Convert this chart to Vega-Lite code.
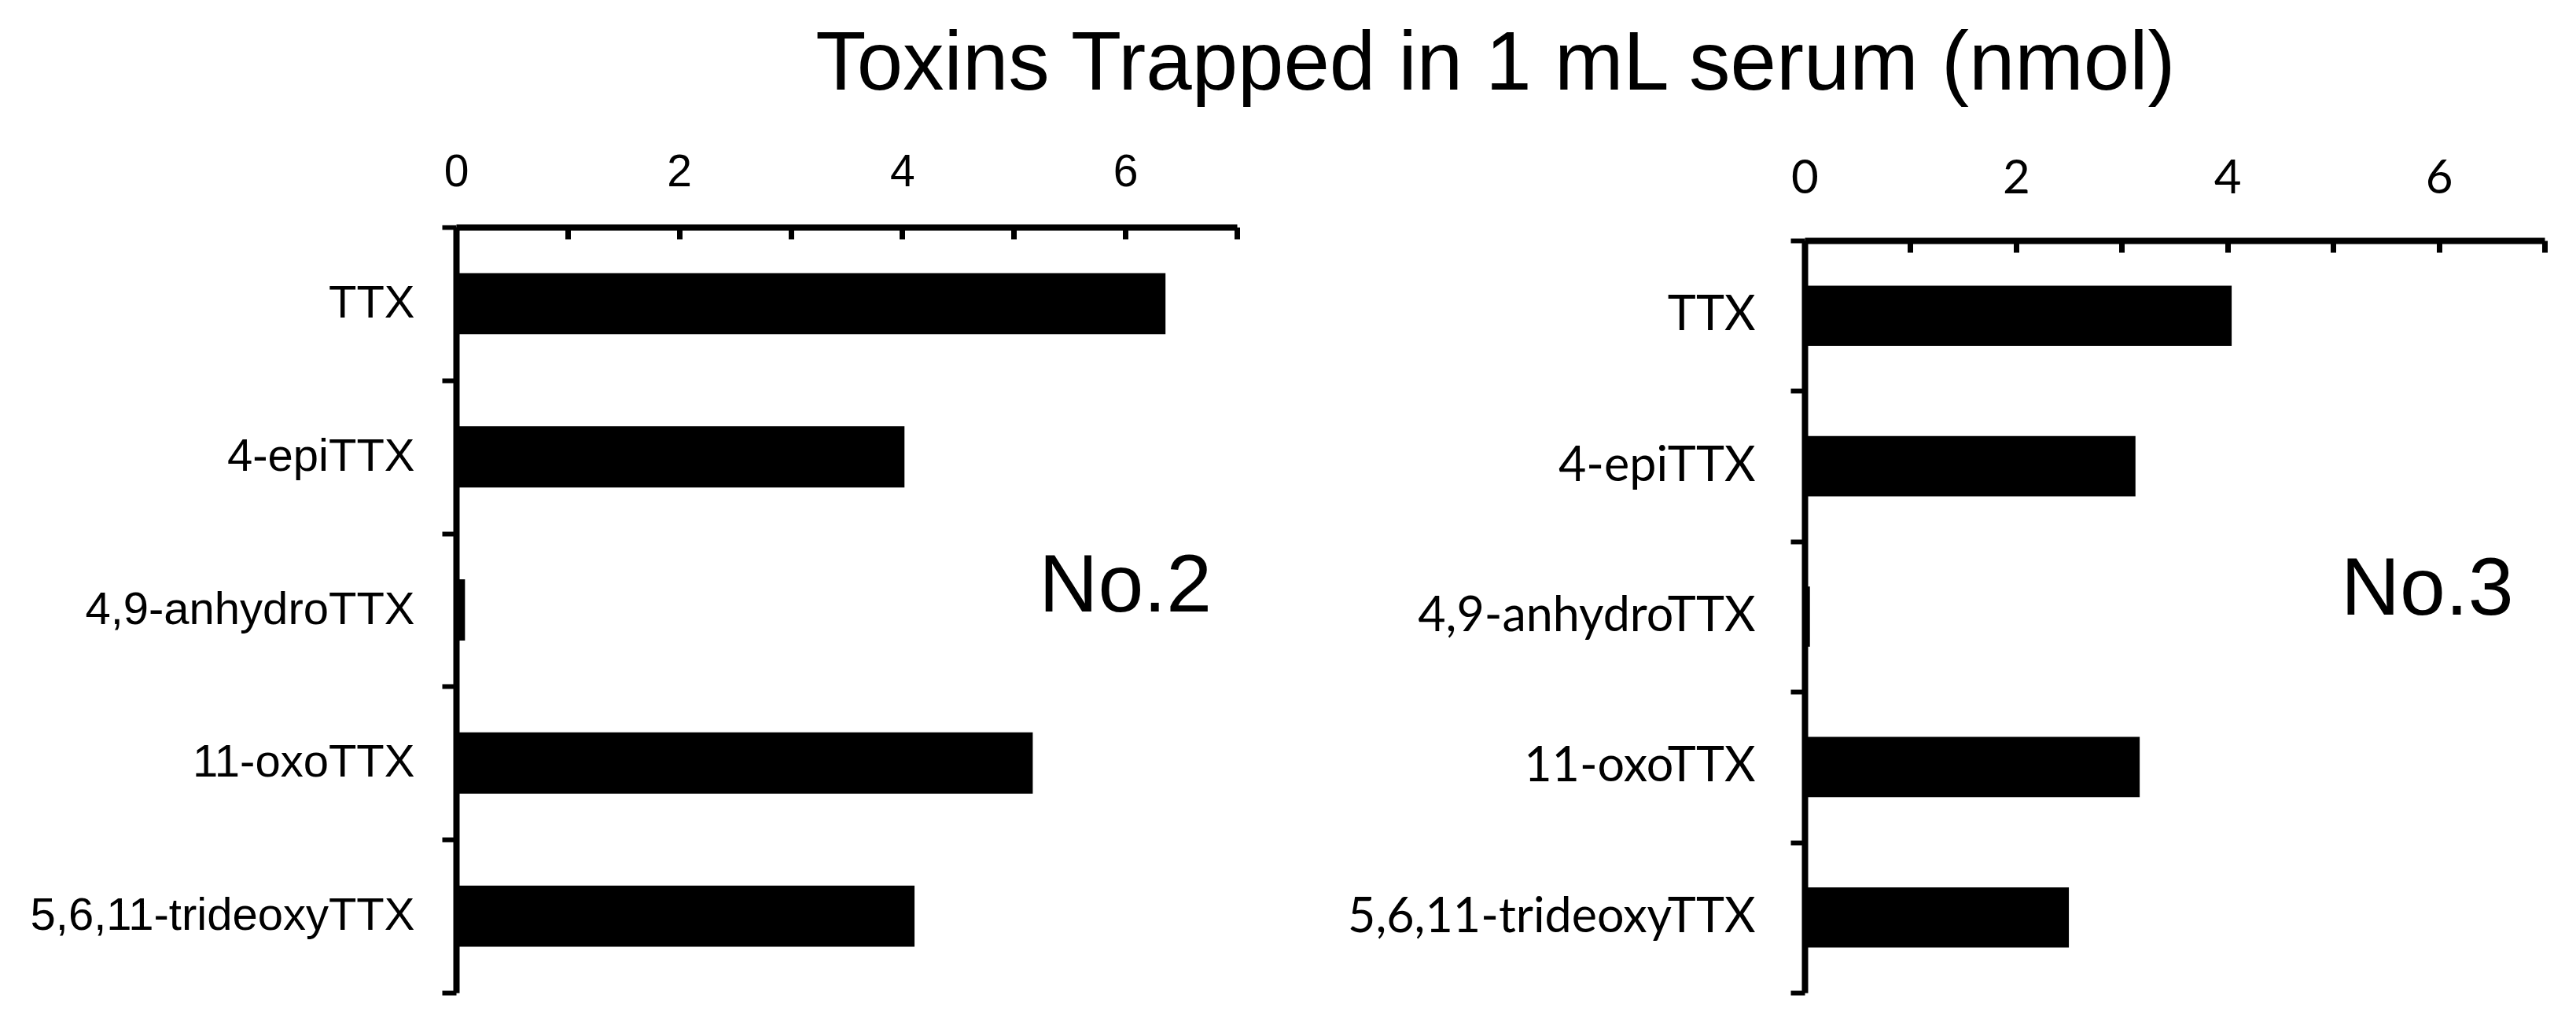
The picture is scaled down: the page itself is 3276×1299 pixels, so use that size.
{
  "$schema": "https://vega.github.io/schema/vega-lite/v6.json",
  "padding": {"left": 38, "top": 30, "right": 5, "bottom": 5},
  "background": "white",
  "title": {
    "text": "Toxins Trapped in 1 mL serum (nmol)",
    "font": "Liberation Sans",
    "fontSize": 105,
    "fontWeight": "normal",
    "color": "black",
    "anchor": "middle",
    "dx": 263,
    "offset": 54
  },
  "datasets": {
    "toxins": [
      {"sample": "No.2", "compound": "TTX", "amount": 6.36},
      {"sample": "No.2", "compound": "4-epiTTX", "amount": 4.02},
      {"sample": "No.2", "compound": "4,9-anhydroTTX", "amount": 0.08},
      {"sample": "No.2", "compound": "11-oxoTTX", "amount": 5.17},
      {"sample": "No.2", "compound": "5,6,11-trideoxyTTX", "amount": 4.11},
      {"sample": "No.3", "compound": "TTX", "amount": 4.04},
      {"sample": "No.3", "compound": "4-epiTTX", "amount": 3.13},
      {"sample": "No.3", "compound": "4,9-anhydroTTX", "amount": 0.05},
      {"sample": "No.3", "compound": "11-oxoTTX", "amount": 3.17},
      {"sample": "No.3", "compound": "5,6,11-trideoxyTTX", "amount": 2.5}
    ]
  },
  "spacing": 136,
  "hconcat": [
    {
      "width": 993,
      "height": 974,
      "data": {"name": "toxins"},
      "transform": [{"filter": "datum.sample == 'No.2'"}],
      "layer": [
        {
          "mark": {"type": "bar", "color": "black", "height": {"band": 0.4}},
          "encoding": {
            "y": {
              "field": "compound", "type": "nominal",
              "sort": ["TTX", "4-epiTTX", "4,9-anhydroTTX", "11-oxoTTX", "5,6,11-trideoxyTTX"],
              "scale": {"paddingInner": 0, "paddingOuter": 0},
              "axis": {
                "title": null, "domainColor": "black", "domainWidth": 8,
                "tickColor": "black", "tickWidth": 6, "tickSize": 18, "tickBand": "extent",
                "labelFont": "Liberation Sans", "labelFontSize": 58, "labelColor": "black",
                "labelPadding": 35, "labelLimit": 1000
              }
            },
            "x": {
              "field": "amount", "type": "quantitative",
              "scale": {"domain": [0, 7], "nice": false},
              "axis": {
                "orient": "top", "title": null, "values": [0, 1, 2, 3, 4, 5, 6, 7],
                "labelExpr": "datum.value % 2 == 0 ? format(datum.value, 'd') : ''",
                "domainColor": "black", "domainWidth": 8, "grid": false,
                "tickColor": "black", "tickWidth": 7, "tickSize": -15,
                "labelFont": "Liberation Sans", "labelFontSize": 57, "labelColor": "black",
                "labelPadding": 56, "labelFlush": false, "labelOverlap": false
              }
            }
          }
        },
        {
          "transform": [{"filter": "datum.compound == '4,9-anhydroTTX'"}],
          "mark": {"type": "text", "font": "Liberation Sans", "fontSize": 104, "baseline": "alphabetic", "align": "center", "dy": 2, "color": "black"},
          "encoding": {
            "x": {"datum": 6.0},
            "y": {"field": "compound", "type": "nominal", "sort": ["TTX", "4-epiTTX", "4,9-anhydroTTX", "11-oxoTTX", "5,6,11-trideoxyTTX"]},
            "text": {"field": "sample"}
          }
        }
      ]
    },
    {
      "width": 941,
      "height": 974,
      "data": {"name": "toxins"},
      "transform": [{"filter": "datum.sample == 'No.3'"}],
      "layer": [
        {
          "mark": {"type": "bar", "color": "black", "height": {"band": 0.4}},
          "encoding": {
            "y": {
              "field": "compound", "type": "nominal",
              "sort": ["TTX", "4-epiTTX", "4,9-anhydroTTX", "11-oxoTTX", "5,6,11-trideoxyTTX"],
              "scale": {"paddingInner": 0, "paddingOuter": 0, "range": [17, 974]},
              "axis": {
                "title": null, "domainColor": "black", "domainWidth": 8,
                "tickColor": "black", "tickWidth": 6, "tickSize": 18, "tickBand": "extent",
                "labelFont": "Lato", "labelFontSize": 61, "labelColor": "black",
                "labelPadding": 45, "labelLimit": 1000
              }
            },
            "x": {
              "field": "amount", "type": "quantitative",
              "scale": {"domain": [0, 7], "nice": false},
              "axis": {
                "orient": "top", "title": null, "offset": -17,
                "values": [0, 1, 2, 3, 4, 5, 6, 7],
                "labelExpr": "datum.value % 2 == 0 ? format(datum.value, 'd') : ''",
                "domainColor": "black", "domainWidth": 8, "grid": false,
                "tickColor": "black", "tickWidth": 7, "tickSize": -15,
                "labelFont": "Lato", "labelFontSize": 60, "labelColor": "black",
                "labelPadding": 63, "labelFlush": false, "labelOverlap": false
              }
            }
          }
        },
        {
          "transform": [{"filter": "datum.compound == '4,9-anhydroTTX'"}],
          "mark": {"type": "text", "font": "Liberation Sans", "fontSize": 104, "baseline": "alphabetic", "align": "center", "dy": -3, "color": "black"},
          "encoding": {
            "x": {"datum": 5.89},
            "y": {"field": "compound", "type": "nominal", "sort": ["TTX", "4-epiTTX", "4,9-anhydroTTX", "11-oxoTTX", "5,6,11-trideoxyTTX"]},
            "text": {"field": "sample"}
          }
        }
      ]
    }
  ],
  "config": {"view": {"stroke": null}}
}
